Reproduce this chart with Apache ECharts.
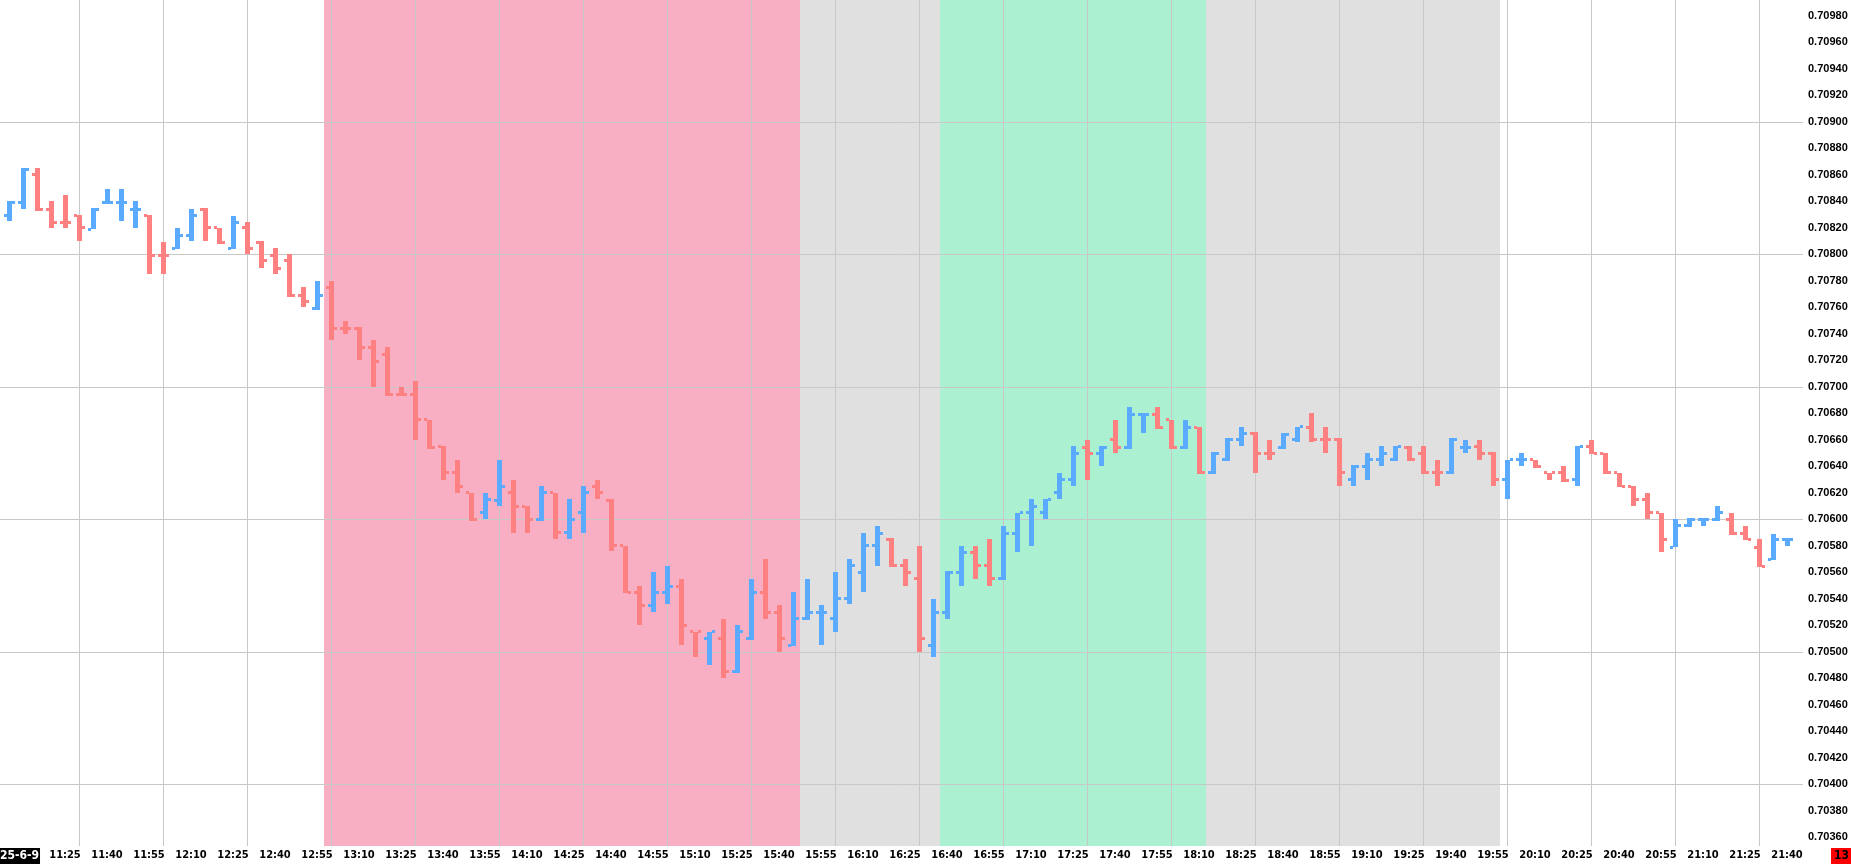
<!DOCTYPE html>
<html>
<head>
<meta charset="utf-8">
<script src="https://cdn.jsdelivr.net/npm/echarts@6/dist/echarts.min.js"></script>
<style>
html,body{margin:0;padding:0;background:#fff;}
#chart{width:1851px;height:868px;}
</style>
</head>
<body>
<div id="chart"></div>
<script>
// ---- categories: 5-minute bar times ----
const times = [
'11:05','11:10','11:15','11:20','11:25','11:30','11:35','11:40','11:45','11:50','11:55',
'12:00','12:05','12:10','12:15','12:20','12:25','12:30','12:35','12:40','12:45','12:50','12:55',
'13:00','13:05','13:10','13:15','13:20','13:25','13:30','13:35','13:40','13:45','13:50','13:55',
'14:00','14:05','14:10','14:15','14:20','14:25','14:30','14:35','14:40','14:45','14:50','14:55',
'15:00','15:05','15:10','15:15','15:20','15:25','15:30','15:35','15:40','15:45','15:50','15:55',
'16:00','16:05','16:10','16:15','16:20','16:25','16:30','16:35','16:40','16:45','16:50','16:55',
'17:00','17:05','17:10','17:15','17:20','17:25','17:30','17:35','17:40','17:45','17:50','17:55',
'18:00','18:05','18:10','18:15','18:20','18:25','18:30','18:35','18:40','18:45','18:50','18:55',
'19:00','19:05','19:10','19:15','19:20','19:25','19:30','19:35','19:40','19:45','19:50','19:55',
'20:00','20:05','20:10','20:15','20:20','20:25','20:30','20:35','20:40','20:45','20:50','20:55',
'21:00','21:05','21:10','21:15','21:20','21:25','21:30','21:35','21:40'
];

// ---- series values (OHLC) ----
const openP = [
0.70829,0.70839,0.70860,0.70834,0.70824,0.70829,0.70819,0.70839,0.70839,0.70834,
0.70829,0.70799,0.70804,0.70814,0.70834,0.70820,0.70804,0.70820,0.70809,0.70799,
0.70795,0.70769,0.70759,0.70775,0.70744,0.70744,0.70730,0.70724,0.70694,0.70694,
0.70675,0.70655,0.70635,0.70620,0.70605,0.70614,0.70620,0.70610,0.70600,0.70620,
0.70590,0.70605,0.70625,0.70614,0.70580,0.70545,0.70535,0.70545,0.70549,0.70515,
0.70510,0.70510,0.70485,0.70510,0.70545,0.70530,0.70505,0.70525,0.70530,0.70525,
0.70540,0.70560,0.70580,0.70585,0.70565,0.70555,0.70505,0.70530,0.70560,0.70575,
0.70565,0.70555,0.70589,0.70605,0.70605,0.70620,0.70630,0.70654,0.70650,0.70660,
0.70654,0.70679,0.70679,0.70675,0.70654,0.70669,0.70635,0.70645,0.70660,0.70665,
0.70650,0.70654,0.70660,0.70669,0.70660,0.70660,0.70630,0.70640,0.70645,0.70645,
0.70654,0.70650,0.70635,0.70635,0.70654,0.70655,0.70650,0.70630,0.70645,0.70645,
0.70635,0.70635,0.70630,0.70655,0.70650,0.70635,0.70625,0.70615,0.70605,0.70579,
0.70595,0.70600,0.70600,0.70600,0.70589,0.70579,0.70570,0.70585
];
const highP = [
0.70840,0.70865,0.70865,0.70840,0.70845,0.70830,0.70835,0.70849,0.70849,0.70840,
0.70830,0.70809,0.70820,0.70834,0.70835,0.70820,0.70829,0.70824,0.70810,0.70805,
0.70800,0.70775,0.70780,0.70780,0.70750,0.70745,0.70735,0.70730,0.70700,0.70704,
0.70675,0.70655,0.70645,0.70620,0.70620,0.70645,0.70630,0.70610,0.70625,0.70620,
0.70615,0.70625,0.70630,0.70615,0.70580,0.70550,0.70560,0.70565,0.70555,0.70515,
0.70515,0.70525,0.70520,0.70555,0.70570,0.70535,0.70545,0.70555,0.70535,0.70560,
0.70570,0.70590,0.70595,0.70586,0.70570,0.70580,0.70540,0.70561,0.70580,0.70580,
0.70585,0.70595,0.70605,0.70615,0.70615,0.70635,0.70655,0.70660,0.70655,0.70675,
0.70685,0.70680,0.70685,0.70675,0.70675,0.70670,0.70651,0.70661,0.70670,0.70666,
0.70660,0.70665,0.70670,0.70680,0.70670,0.70661,0.70641,0.70650,0.70655,0.70655,
0.70655,0.70655,0.70645,0.70661,0.70660,0.70660,0.70651,0.70645,0.70650,0.70645,
0.70635,0.70640,0.70655,0.70660,0.70650,0.70635,0.70625,0.70620,0.70605,0.70600,
0.70601,0.70601,0.70610,0.70605,0.70595,0.70585,0.70589,0.70586
];
const lowP = [
0.70825,0.70834,0.70833,0.70820,0.70820,0.70810,0.70819,0.70838,0.70825,0.70820,
0.70785,0.70785,0.70804,0.70810,0.70810,0.70808,0.70804,0.70800,0.70790,0.70785,
0.70768,0.70760,0.70758,0.70735,0.70740,0.70720,0.70700,0.70693,0.70693,0.70660,
0.70653,0.70630,0.70620,0.70599,0.70600,0.70610,0.70590,0.70590,0.70599,0.70585,
0.70585,0.70590,0.70615,0.70576,0.70544,0.70520,0.70530,0.70536,0.70505,0.70496,
0.70490,0.70480,0.70484,0.70509,0.70525,0.70500,0.70504,0.70524,0.70505,0.70515,
0.70536,0.70545,0.70565,0.70564,0.70550,0.70500,0.70496,0.70525,0.70550,0.70555,
0.70550,0.70554,0.70575,0.70580,0.70600,0.70615,0.70625,0.70630,0.70640,0.70650,
0.70653,0.70665,0.70668,0.70653,0.70653,0.70634,0.70634,0.70644,0.70655,0.70635,
0.70645,0.70653,0.70658,0.70658,0.70650,0.70625,0.70625,0.70630,0.70640,0.70644,
0.70644,0.70634,0.70625,0.70634,0.70650,0.70645,0.70625,0.70615,0.70640,0.70639,
0.70630,0.70628,0.70625,0.70649,0.70634,0.70624,0.70610,0.70600,0.70575,0.70579,
0.70594,0.70595,0.70599,0.70588,0.70584,0.70564,0.70569,0.70580
];
const closeP = [
0.70839,0.70864,0.70834,0.70824,0.70824,0.70820,0.70834,0.70839,0.70839,0.70834,
0.70799,0.70799,0.70814,0.70829,0.70820,0.70809,0.70824,0.70804,0.70795,0.70789,
0.70769,0.70764,0.70769,0.70744,0.70744,0.70730,0.70719,0.70694,0.70694,0.70675,
0.70654,0.70635,0.70625,0.70600,0.70615,0.70625,0.70610,0.70600,0.70620,0.70590,
0.70600,0.70620,0.70620,0.70580,0.70545,0.70535,0.70545,0.70549,0.70520,0.70515,
0.70515,0.70485,0.70515,0.70545,0.70530,0.70510,0.70525,0.70530,0.70530,0.70540,
0.70565,0.70580,0.70589,0.70565,0.70560,0.70510,0.70530,0.70560,0.70575,0.70565,
0.70555,0.70589,0.70605,0.70610,0.70615,0.70630,0.70650,0.70650,0.70654,0.70654,
0.70679,0.70679,0.70669,0.70654,0.70669,0.70635,0.70650,0.70660,0.70665,0.70650,
0.70650,0.70664,0.70670,0.70660,0.70660,0.70635,0.70640,0.70645,0.70650,0.70655,
0.70645,0.70635,0.70635,0.70660,0.70654,0.70650,0.70630,0.70645,0.70645,0.70640,
0.70635,0.70629,0.70655,0.70650,0.70635,0.70625,0.70615,0.70605,0.70585,0.70595,
0.70600,0.70600,0.70605,0.70589,0.70585,0.70564,0.70585,0.70585
];
// bars where open == close but the bar is drawn as a down bar
const dojiDown = [4, 11, 24, 28, 49, 90, 94, 102, 110];

// ---- session background bands (first bar, last bar, kind) ----
const bandStart = ['13:00', '15:50', '16:40', '18:15'];
const bandEnd   = ['15:45', '16:35', '18:10', '19:55'];
const bandKind  = ['pink', 'gray', 'green', 'gray'];

// ---- tick labels ----
const xTickLabels = ['11:25','11:40','11:55','12:10','12:25','12:40','12:55','13:10','13:25','13:40','13:55',
'14:10','14:25','14:40','14:55','15:10','15:25','15:40','15:55','16:10','16:25','16:40','16:55','17:10',
'17:25','17:40','17:55','18:10','18:25','18:40','18:55','19:10','19:25','19:40','19:55','20:10','20:25',
'20:40','20:55','21:10','21:25','21:40'];
const xGridTimes = ['11:30','12:00','12:30','13:00','13:30','14:00','14:30','15:00','15:30','16:00','16:30',
'17:00','17:30','18:00','18:30','19:00','19:30','20:00','20:30','21:00','21:30'];
const yTickLabels = [0.70360,0.70380,0.70400,0.70420,0.70440,0.70460,0.70480,0.70500,0.70520,0.70540,
0.70560,0.70580,0.70600,0.70620,0.70640,0.70660,0.70680,0.70700,0.70720,0.70740,0.70760,0.70780,
0.70800,0.70820,0.70840,0.70860,0.70880,0.70900,0.70920,0.70940,0.70960,0.70980];
const yGridValues = [0.70400,0.70500,0.70600,0.70700,0.70800,0.70900];
const dateLabel = '25-6-9';
const timerLabel = '13';

// ---- styling ----
const UP = '#5aabff', DOWN = '#ff8080';
const BAND_COLORS = {pink:'#f8afc3', gray:'#e0e0e0', green:'#abf0d1'};
const GRID_COLOR = '#c8c8c8';
const NARROW = '"Liberation Sans Narrow","Arial Narrow","DejaVu Sans Condensed","Liberation Sans",sans-serif';

const GRID_W = 1803, BAR_STEP = 14, FIRST_X = 9;
const X_MIN = -FIRST_X / BAR_STEP, X_MAX = (GRID_W - FIRST_X) / BAR_STEP;
const Y_MIN = 0.7035343, Y_MAX = 0.7099192;

const ohlcData = times.map((t, i) => [i, openP[i], highP[i], lowP[i], closeP[i]]);
const bandData = bandStart.map((s, k) => [times.indexOf(s) - 0.5, times.indexOf(bandEnd[k]) + 0.5, k]);

function renderBar(params, api) {
  const i = api.value(0), o = api.value(1), h = api.value(2), l = api.value(3), c = api.value(4);
  const up = c > o || (c === o && dojiDown.indexOf(i) < 0);
  const color = up ? UP : DOWN;
  const pH = api.coord([i, h]), pL = api.coord([i, l]), pO = api.coord([i, o]), pC = api.coord([i, c]);
  const x = Math.round(pH[0]);
  const top = Math.round(pH[1]), bot = Math.round(pL[1]);
  return {
    type: 'group',
    children: [
      {type:'rect', shape:{x:x-2, y:top, width:5, height:Math.max(1, bot-top)}, style:{fill:color}},
      {type:'rect', shape:{x:x-5, y:Math.round(pO[1]-1.5), width:3, height:3}, style:{fill:color}},
      {type:'rect', shape:{x:x+3, y:Math.round(pC[1]-1.5), width:3, height:3}, style:{fill:color}}
    ]
  };
}
function renderBand(params, api) {
  const a = api.coord([api.value(0), Y_MAX]);
  const b = api.coord([api.value(1), Y_MIN]);
  return {type:'rect', shape:{x:a[0], y:a[1], width:b[0]-a[0], height:b[1]-a[1]},
          style:{fill: BAND_COLORS[bandKind[api.value(2)]]}};
}

const chart = echarts.init(document.getElementById('chart'), null, {renderer:'canvas'});
chart.setOption({
  animation: false,
  backgroundColor: '#ffffff',
  grid: {left: 0, right: 1851 - GRID_W, top: 0, bottom: 22, containLabel: false, outerBoundsMode: 'none'},
  xAxis: {
    type: 'value', min: X_MIN, max: X_MAX,
    axisLine: {show: false},
    axisTick: {show: false, customValues: xGridTimes.map(t => times.indexOf(t))},
    splitLine: {show: true, lineStyle: {color: GRID_COLOR, width: 1}},
    axisLabel: {
      customValues: xTickLabels.map(t => times.indexOf(t)),
      formatter: v => times[Math.round(v)],
      color: '#000', fontWeight: 'bold', fontSize: 11, fontFamily: NARROW, margin: 4
    }
  },
  yAxis: {
    type: 'value', position: 'right', min: Y_MIN, max: Y_MAX, scale: true,
    axisLine: {show: false},
    axisTick: {show: false, customValues: yGridValues},
    splitLine: {show: true, lineStyle: {color: GRID_COLOR, width: 1}},
    axisLabel: {
      customValues: yTickLabels,
      formatter: v => v.toFixed(5),
      color: '#000', fontWeight: 'bold', fontSize: 11, fontFamily: '"Liberation Sans",Arial,sans-serif', margin: 5
    }
  },
  series: [
    {type:'custom', name:'sessions', z:-1, silent:true, renderItem: renderBand, data: bandData,
     encode:{x:[0,1]}},
    {type:'custom', name:'price', z:3, silent:true, renderItem: renderBar, data: ohlcData,
     encode:{x:0, y:[1,2,3,4]}},
    {type:'line', name:'last', silent:true, data: [], symbol:'none',
     markLine: {
       silent: true, symbol: 'none', animation:false,
       lineStyle: {color:'rgba(0,0,0,0)', width:0},
       data: [{yAxis: closeP[closeP.length-1]}],
       label: {position:'end', distance:5, formatter: () => closeP[closeP.length-1].toFixed(5),
               color:'#c4c4c4', fontWeight:'bold', fontSize:11, fontFamily:'"Liberation Sans",Arial,sans-serif',
               backgroundColor:'#ffffff', padding:[1,0,0,0]}
     }}
  ],
  graphic: [
    {type:'text', left:0, top:848, z:10, silent:true,
     style:{text: dateLabel, fill:'#ffffff', backgroundColor:'#000000', padding:[2,1,2,0],
            font:'bold 12px ' + NARROW}},
    {type:'text', right:0, top:848, z:10, silent:true,
     style:{text: timerLabel, fill:'#000000', backgroundColor:'#ff0000', padding:[2,2,2,3],
            font:'bold 12px ' + NARROW}}
  ]
});
</script>
</body>
</html>
